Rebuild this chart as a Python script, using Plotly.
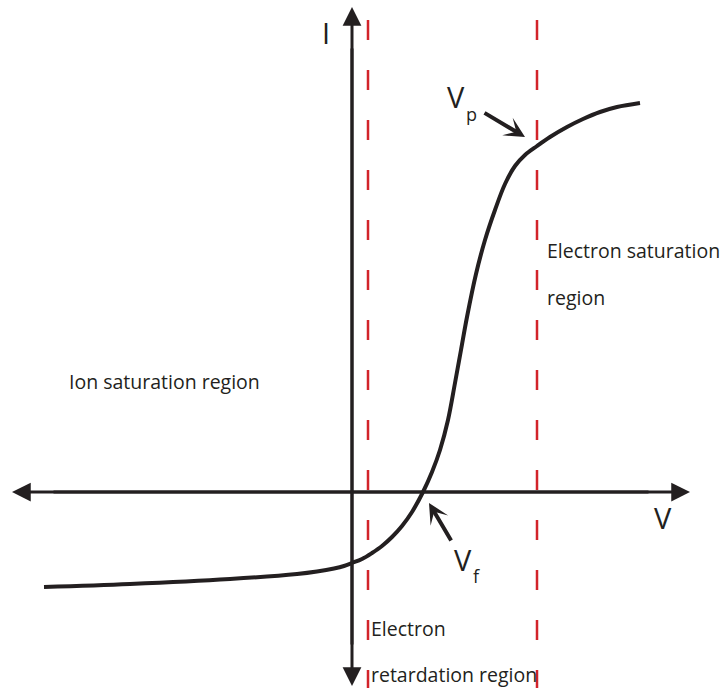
import plotly.graph_objects as go

# Probe I-V characteristic (arbitrary units)
voltage = [-3.08, -2.22, -1.22, -0.55, -0.35, -0.18, -0.08, 0.0, 0.10, 0.20, 0.30,
           0.40, 0.50, 0.60, 0.71, 0.80, 0.88, 0.96, 1.03, 1.09, 1.15, 1.24, 1.33,
           1.43, 1.53, 1.63, 1.73, 1.85, 1.98, 2.15, 2.31, 2.48, 2.65, 2.88]
current = [-0.95, -0.92, -0.87, -0.82, -0.795, -0.765, -0.74, -0.71, -0.67, -0.61, -0.54,
           -0.45, -0.34, -0.20, 0.0, 0.20, 0.42, 0.72, 1.09, 1.42, 1.75, 2.18, 2.52,
           2.82, 3.08, 3.26, 3.37, 3.46, 3.55, 3.65, 3.73, 3.80, 3.85, 3.89]

# Region boundaries
v_boundaries = [0.16, 1.85]

# Axis extents
v_axis_span = [-3.40, 3.38]
i_axis_span = [-1.94, 4.85]

INK = "#231f20"
RED = "#d2232a"
FONT = "Open Sans"

fig = go.Figure()

fig.add_trace(go.Scatter(
    x=voltage, y=current, mode="lines",
    line=dict(color=INK, width=4, shape="spline", smoothing=1.0),
    hoverinfo="skip", showlegend=False,
))

# Dashed boundaries
for vb in v_boundaries:
    fig.add_shape(type="line", x0=vb, x1=vb, y0=4.72, y1=-1.96,
                  line=dict(color=RED, width=2.5, dash="20px,30px"), layer="below")

annotations = []


def arrow(x, y, ax, ay, width, size, head=2):
    annotations.append(dict(x=x, y=y, ax=ax, ay=ay,
                            xref="x", yref="y", axref="x", ayref="y", text="",
                            showarrow=True, arrowhead=head, arrowwidth=width,
                            arrowsize=size, arrowcolor=INK))


# Each axis is two overlapping arrows running end to end in opposite directions
arrow(v_axis_span[1], 0, v_axis_span[0] + 0.4, 0, 3, 1.25)
arrow(v_axis_span[0], 0, v_axis_span[1] - 0.4, 0, 3, 1.25)
arrow(0, i_axis_span[1], 0, i_axis_span[0] + 0.4, 3, 1.25)
arrow(0, i_axis_span[0], 0, i_axis_span[1] - 0.4, 3, 1.25)

# Pointers to V_p and V_f
arrow(1.73, 3.55, 1.31, 3.80, 4, 0.85, head=3)
arrow(0.77, -0.11, 1.00, -0.50, 4, 0.85, head=3)


def label(text, x, y, size, xanchor="center"):
    annotations.append(dict(x=x, y=y, xref="x", yref="y", text=text, showarrow=False,
                            xanchor=xanchor, yanchor="middle",
                            font=dict(family=FONT, size=size, color=INK)))


label("I", -0.26, 4.60, 29)
label("V", 3.11, -0.25, 29)
label("V", 1.04, 3.96, 29)
label("p", 1.19, 3.78, 18)
label("V", 1.11, -0.67, 29)
label("f", 1.24, -0.84, 18)
label("Ion saturation region", -2.85, 1.11, 19.5, "left")
label("Electron saturation", 1.93, 2.42, 19.5, "left")
label("region", 1.93, 1.95, 19.5, "left")
label("Electron", 0.17, -1.36, 19.5, "left")
label("retardation region", 0.17, -1.82, 19.5, "left")

fig.update_layout(
    width=720, height=688,
    margin=dict(l=0, r=0, t=0, b=0),
    paper_bgcolor="white", plot_bgcolor="white",
    xaxis=dict(range=[-3.52, 3.68], visible=False, fixedrange=True),
    yaxis=dict(range=[-1.96, 4.92], visible=False, fixedrange=True),
    annotations=annotations,
    showlegend=False,
)

fig.write_html("out.html")
